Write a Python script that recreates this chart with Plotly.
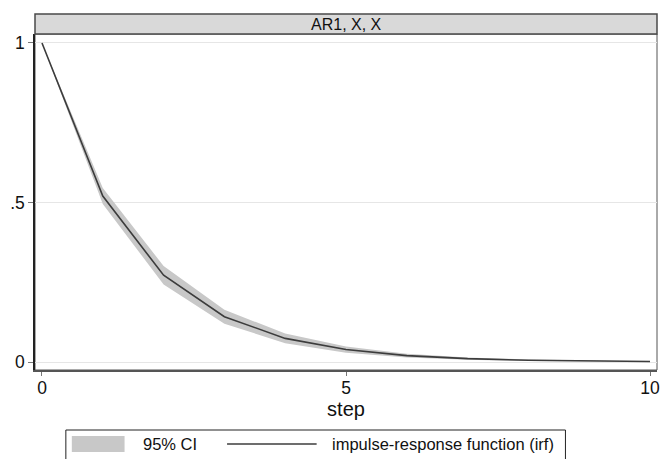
import plotly.graph_objects as go

# Impulse-response function for AR1 (impulse X, response X) with 95% CI
step = [0, 1, 2, 3, 4, 5, 6, 7, 8, 9, 10]
irf = [1.0, 0.52, 0.272, 0.142, 0.074, 0.039, 0.020, 0.0105, 0.0055, 0.0029, 0.0015]
ci_lower = [1.0, 0.495, 0.243, 0.120, 0.059, 0.029, 0.014, 0.0068, 0.0033, 0.0016, 0.0008]
ci_upper = [1.0, 0.545, 0.301, 0.164, 0.089, 0.049, 0.026, 0.0142, 0.0077, 0.0042, 0.0022]

panel_title = "AR1, X, X"
x_title = "step"
y_tickvals = [0, 0.5, 1]
y_ticktext = ["0", ".5", "1"]
x_tickvals = [0, 5, 10]
legend_labels = ["95% CI", "impulse-response function (irf)"]

W, H = 667, 459
L, R, T, B = 35, 7, 34, 89
pw, ph = W - L - R, H - T - B


def px(x):
    return (x - L) / pw


def py(y):
    return (H - B - y) / ph


CI_COLOR = "#c8c8c8"
LINE_COLOR = "#3c3c3c"
FONT = "Liberation Sans, Arial, sans-serif"

fig = go.Figure()

fig.add_trace(go.Scatter(x=step, y=ci_upper, mode="lines", line=dict(width=0),
                         hoverinfo="skip", showlegend=False))
fig.add_trace(go.Scatter(x=step, y=ci_lower, mode="lines", line=dict(width=0),
                         fill="tonexty", fillcolor=CI_COLOR, name=legend_labels[0],
                         showlegend=False))
fig.add_trace(go.Scatter(x=step, y=irf, mode="lines",
                         line=dict(color=LINE_COLOR, width=1.6),
                         name=legend_labels[1], showlegend=False))

shapes = [
    # plot region frame
    dict(type="rect", xref="paper", yref="paper", x0=0, x1=1, y0=0, y1=1,
         line=dict(color="#555555", width=1), layer="below"),
    # panel strip
    dict(type="rect", xref="paper", yref="paper", x0=0, x1=1, y0=1, y1=1 + 20 / ph,
         fillcolor="#d9d9d9", line=dict(color="#4a4a4a", width=1.5)),
    # legend box
    dict(type="rect", xref="paper", yref="paper", x0=px(66), x1=px(568),
         y0=py(475), y1=py(430), line=dict(color="#222222", width=1)),
    # legend key: CI area
    dict(type="rect", xref="paper", yref="paper", x0=px(72), x1=px(125),
         y0=py(452), y1=py(436), fillcolor=CI_COLOR, line=dict(width=0)),
    # legend key: irf line
    dict(type="line", xref="paper", yref="paper", x0=px(228), x1=px(318),
         y0=py(444), y1=py(444), line=dict(color=LINE_COLOR, width=1.4)),
]

annotations = [
    dict(text=panel_title, xref="paper", yref="paper", x=0.5, y=1 + 10 / ph,
         showarrow=False, xanchor="center", yanchor="middle",
         font=dict(size=16, color="#111111", family=FONT)),
    dict(text=legend_labels[0], xref="paper", yref="paper", x=px(142), y=py(444),
         showarrow=False, xanchor="left", yanchor="middle",
         font=dict(size=16.5, color="#111111", family=FONT)),
    dict(text=legend_labels[1], xref="paper", yref="paper", x=px(331), y=py(444),
         showarrow=False, xanchor="left", yanchor="middle",
         font=dict(size=16.5, color="#111111", family=FONT)),
]

fig.update_layout(
    width=W, height=H,
    margin=dict(l=L, r=R, t=T, b=B, pad=0),
    paper_bgcolor="white", plot_bgcolor="white",
    font=dict(family=FONT, size=17, color="#111111"),
    showlegend=False,
    shapes=shapes,
    annotations=annotations,
    xaxis=dict(
        range=[-0.115, 10.115], tickvals=x_tickvals, ticks="outside", ticklen=4,
        tickcolor="#777777", tickwidth=1, showgrid=False, zeroline=False,
        showline=True, linecolor="#555555", linewidth=1.5,
        ticklabelstandoff=-3,
        title=dict(text=x_title, font=dict(size=20), standoff=0),
        tickfont=dict(size=17.5),
    ),
    yaxis=dict(
        range=[-0.025, 1.028], tickvals=y_tickvals, ticktext=y_ticktext,
        ticks="outside", ticklen=5, tickcolor="#777777", tickwidth=1,
        showgrid=True, gridcolor="#e6e6e6", gridwidth=1, zeroline=False,
        showline=True, linecolor="#222222", linewidth=1.5,
        tickfont=dict(size=17.5),
    ),
)

fig.write_html("out.html")
